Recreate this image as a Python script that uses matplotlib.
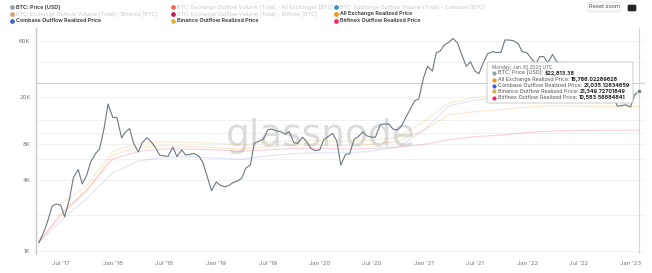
import matplotlib
matplotlib.use("Agg")
import matplotlib.pyplot as plt
import numpy as np
import pandas as pd
from matplotlib.lines import Line2D
from matplotlib.patches import FancyBboxPatch

W, H = 652, 273

plt.rcParams["font.family"] = ["Inter", "DejaVu Sans"]

# BTC price, semi-monthly (1st / 15th)
price_dates = list(pd.date_range("2017-04-15", "2023-01-15", freq="SMS")) + [pd.Timestamp("2023-01-30")]
btc_price = [
    1180, 1420, 1750, 2400, 2500, 2450, 1950, 2750, 4200, 4900, 3700, 4400, 5700, 6700, 7300, 10900, 17600,
    13500, 13600, 9100, 10200, 10900, 8200, 6900, 8300, 9100, 8500, 7500, 6500,
    6400, 6350, 7600, 6300, 7200, 6500, 6600, 6700, 6350, 5600, 4200, 3250,
    3850, 3600, 3500, 3600, 3800, 3900, 4150, 5050, 5350, 8200, 8550, 8800,
    10600, 10800, 10400, 10300, 9750, 10300, 8300, 8150, 9200, 8500, 7400, 7100,
    7200, 8800, 9400, 9900, 8550, 5350, 6600, 6650, 8850, 9300, 10200, 9450,
    9230, 9200, 11800, 11900, 11900, 10800, 10600, 11500, 13800, 15900, 18800, 19400,
    29400, 36800, 33500, 48000, 49600, 55600, 59000, 63200, 57800, 46500, 36700, 40200,
    33500, 31800, 39900, 47000, 48800, 48100, 48200, 61500, 61300, 60400, 57200, 48900,
    47700, 43100, 38700, 44500, 44400, 39300, 46300, 40500, 38500, 31300, 29800, 22500,
    19300, 20800, 23300, 24100, 20100, 19700, 19300, 19070, 20480, 16900, 17100, 17360,
    16600, 20900, 22813.38,
]

# realized prices, quarterly
rp_dates = [pd.Timestamp("2017-04-15")] + list(pd.date_range("2017-07-01", "2023-01-01", freq="QS")) + [pd.Timestamp("2023-01-30")]
all_exchange_rp = [1180, 2100, 3200, 6500, 7600, 7800, 7700, 7500, 7300, 7700, 7900, 7900, 7800, 8000, 8500,
                   10500, 14200, 15200, 15800, 16600, 17000, 16900, 16800, 16790, 16786.02]
coinbase_rp = [1180, 1800, 2800, 4600, 5800, 6200, 6300, 6100, 6000, 6400, 6700, 6800, 6800, 7000, 7600,
               10500, 17000, 19000, 20000, 21000, 21300, 21100, 21050, 21040, 21035.13]
binance_rp = [np.nan, 2500, 3600, 7000, 8200, 8400, 8300, 8200, 7900, 8400, 8600, 8600, 8500, 8700, 9200,
              12500, 18000, 20000, 20800, 21500, 21600, 21400, 21360, 21350, 21349.73]
bitfinex_rp = [1180, 2000, 3300, 6000, 7000, 7300, 7300, 7200, 7000, 7200, 7400, 7400, 7300, 7400, 7600,
               8000, 8800, 9300, 9600, 10100, 10400, 10500, 10550, 10580, 10583.57]

y_ticks = [1000, 4000, 8000, 20000, 60000]
y_tick_labels = ["1K", "4K", "8K", "20K", "60K"]
y_minor_grid = [2000, 6000, 10000, 13000, 40000]
x_tick_dates = pd.date_range("2017-07-01", "2023-01-01", freq="6MS")
x_tick_labels = [d.strftime("%b '%y") for d in x_tick_dates]

C_PRICE = "#6b7882"
C_ALL = "#f7931a"
C_CB = "#3f5fd6"
C_BN = "#e0b03c"
C_BF = "#ef2a5e"


def px(x, y):
    return x / W, 1 - y / H


fig = plt.figure(figsize=(W / 100, H / 100), dpi=100)
ax = fig.add_axes([36 / W, 1 - 254 / H, (645 - 36) / W, (254 - 28) / H])
ax.set_yscale("log")
ax.set_ylim(943, 77600)
ax.set_xlim(pd.Timestamp("2017-04-05"), pd.Timestamp("2023-02-21"))

for v in y_ticks + y_minor_grid:
    ax.axhline(v, color="#efefef", lw=0.6, zorder=0)
ax.axhline(26600, color="#cfcfcf", lw=0.8, zorder=1)
ax.axvline(pd.Timestamp("2023-01-30"), color="#d5d5d5", lw=0.8, zorder=1)

ax.text(0.468, 0.52, "glassnode", transform=ax.transAxes, fontsize=27, color="#dcdcdc",
        ha="center", va="center", zorder=1, family="DejaVu Sans")

ax.plot(rp_dates, bitfinex_rp, color=C_BF, lw=0.8, alpha=0.22, zorder=2)
ax.plot(rp_dates, coinbase_rp, color=C_CB, lw=0.8, alpha=0.16, zorder=2)
ax.plot(rp_dates, binance_rp, color=C_BN, lw=0.8, alpha=0.22, zorder=2)
ax.plot(rp_dates, all_exchange_rp, color=C_ALL, lw=0.8, alpha=0.22, zorder=2)
ax.plot(price_dates, btc_price, color=C_PRICE, lw=0.8, zorder=3)
ax.plot([price_dates[-1]], [btc_price[-1]], marker="o", ms=3, color=C_PRICE, mec="white", mew=0.5, zorder=4)

ax.yaxis.set_minor_locator(matplotlib.ticker.NullLocator())
ax.set_yticks(y_ticks)
ax.set_yticklabels(y_tick_labels)
ax.set_xticks(x_tick_dates)
ax.set_xticklabels(x_tick_labels)
ax.tick_params(axis="both", length=0, labelsize=4.3, labelcolor="#777777")
ax.tick_params(axis="y", pad=4)
ax.tick_params(axis="x", pad=5)
for s in ("top", "right", "bottom"):
    ax.spines[s].set_visible(False)
ax.spines["left"].set_color("#c8c8c8")
ax.spines["left"].set_linewidth(1.0)

# legend
legend_items = [
    (12, 7, "#8fa0ad", "BTC: Price [USD]", True),
    (173, 7, "#f26a4b", "BTC: Exchange Outflow Volume (Total) - All Exchanges [BTC]", False),
    (336, 7, "#3b8fc4", "BTC: Exchange Outflow Volume (Total) - Coinbase [BTC]", False),
    (12, 14, "#d7a372", "BTC: Exchange Outflow Volume (Total) - Binance [BTC]", False),
    (173, 14, "#c2185b", "BTC: Exchange Outflow Volume (Total) - Bitfinex [BTC]", False),
    (336, 14, C_ALL, "All Exchange Realized Price", True),
    (12, 21, C_CB, "Coinbase Outflow Realized Price", True),
    (173, 21, C_BN, "Binance Outflow Realized Price", True),
    (336, 21, C_BF, "Bitfinex Outflow Realized Price", True),
]
for x, y, c, label, active in legend_items:
    fx, fy = px(x, y)
    fig.add_artist(Line2D([fx], [fy], marker="o", ms=2.4, color=c, mec=c, transform=fig.transFigure))
    fx, fy = px(x + 4, y)
    fig.text(fx, fy, label, fontsize=3.9, va="center", ha="left",
             color="#333333" if active else "#c8c8c8", fontweight="semibold" if active else "normal")

# reset zoom button + camera icon
bx, by = px(588, 12)
fig.add_artist(FancyBboxPatch((bx, by), 32 / W, 10 / H, boxstyle="round,pad=0,rounding_size=0.004",
                              fc="#f7f7f7", ec="#e2e2e2", lw=0.5, transform=fig.transFigure))
fx, fy = px(604, 7)
fig.text(fx, fy, "Reset zoom", fontsize=4.0, color="#555555", ha="center", va="center")
cx, cy = px(628, 11)
fig.add_artist(FancyBboxPatch((cx, cy), 8 / W, 6 / H, boxstyle="round,pad=0,rounding_size=0.003",
                              fc="#222222", ec="#222222", lw=0.5, transform=fig.transFigure))

# tooltip
tx, ty = px(487, 103)
fig.add_artist(FancyBboxPatch((tx, ty), (633 - 487) / W, (103 - 62) / H,
                              boxstyle="round,pad=0,rounding_size=0.004",
                              fc="white", ec="#bdbdbd", lw=0.6, alpha=0.92,
                              transform=fig.transFigure, zorder=10))
fx, fy = px(492, 67)
fig.text(fx, fy, "Monday, Jan 30 2023 UTC", fontsize=3.4, color="#666666", va="center", zorder=11)
tooltip_rows = [
    (73, "#8fa0ad", "BTC: Price [USD]: ", r"\$22,813.38"),
    (79.5, C_ALL, "All Exchange Realized Price: ", "16,786.02289628"),
    (85.5, C_CB, "Coinbase Outflow Realized Price: ", "21,035.12834659"),
    (91.5, C_BN, "Binance Outflow Realized Price: ", "21,349.72701849"),
    (97.5, C_BF, "Bitfinex Outflow Realized Price: ", "10,583.56884841"),
]
renderer = fig.canvas.get_renderer()
for y, c, label, value in tooltip_rows:
    fx, fy = px(494, y)
    fig.add_artist(Line2D([fx], [fy], marker="o", ms=2.0, color=c, mec=c, transform=fig.transFigure, zorder=11))
    fx, fy = px(498, y)
    t = fig.text(fx, fy, label, fontsize=3.9, color="#555555", va="center", zorder=11)
    bb = t.get_window_extent(renderer)
    fig.text(bb.x1 / W, fy, value, fontsize=3.9, color="#222222", fontweight="bold",
             va="center", ha="left", zorder=11)

fig.savefig("out.png", dpi=100)
